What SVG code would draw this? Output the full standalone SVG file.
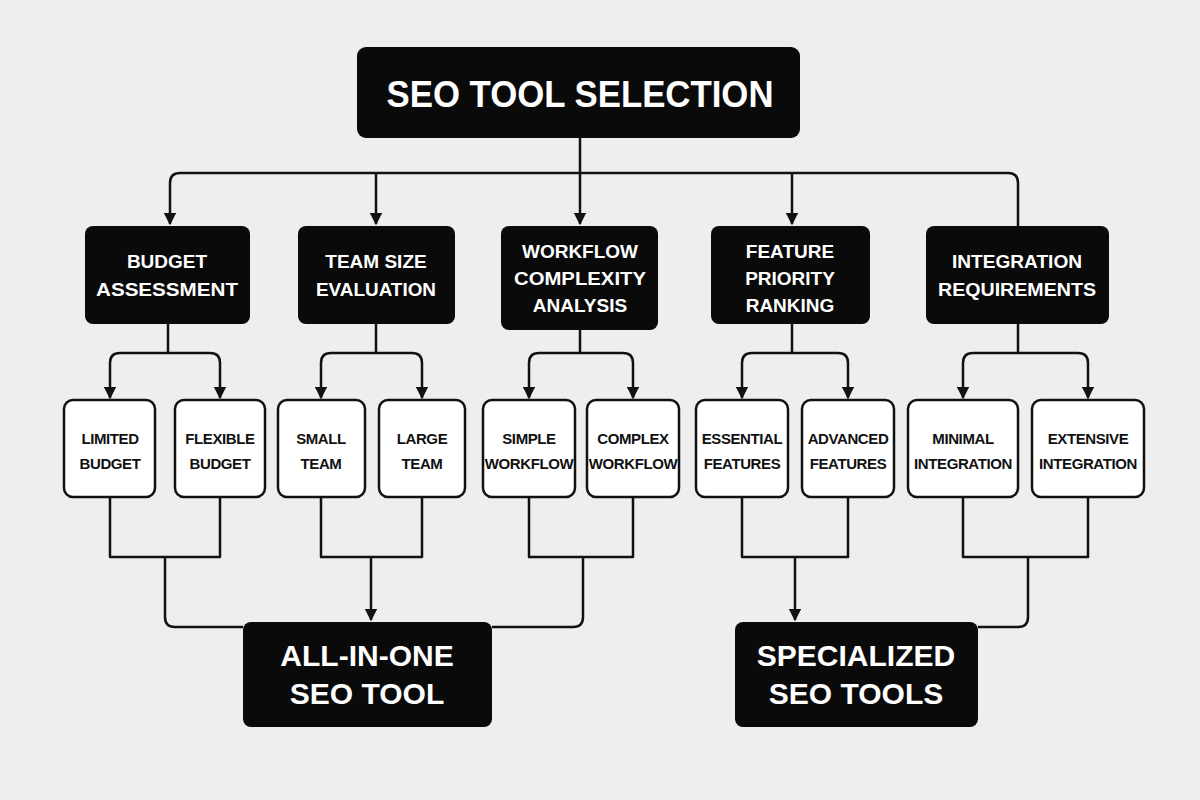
<svg xmlns="http://www.w3.org/2000/svg" width="1200" height="800" viewBox="0 0 1200 800">
<style>
.b{fill:#0a0a0a}
.w{fill:#fff;stroke:#111;stroke-width:2.5}
.t{font-family:"Liberation Sans",Arial,sans-serif;font-weight:bold;text-anchor:middle}
.tw{fill:#fff}
.tb{fill:#111;font-size:15px;letter-spacing:-0.4px}
.c{fill:none;stroke:#111;stroke-width:2.5;stroke-linejoin:round}
</style>
<defs><marker id="a" viewBox="0 0 10 10" refX="9" refY="5" markerWidth="5" markerHeight="5" orient="auto"><path d="M0,0L10,5L0,10z" fill="#111"/></marker></defs>
<rect width="1200" height="800" fill="#efeeef"/>
<g id="connectors" class="c">
<path d="M580,137V173"/>
<path d="M580,173H180Q170,173 170,183V224" marker-end="url(#a)"/>
<path d="M376,173V224" marker-end="url(#a)"/>
<path d="M580,173V224" marker-end="url(#a)"/>
<path d="M792,173V224" marker-end="url(#a)"/>
<path d="M580,173H1008Q1018,173 1018,183V226"/>
<path d="M168,324V353"/><path d="M168,353H120Q110,353 110,363V398" marker-end="url(#a)"/><path d="M168,353H210Q220,353 220,363V398" marker-end="url(#a)"/>
<path d="M376,324V353"/><path d="M376,353H331Q321,353 321,363V398" marker-end="url(#a)"/><path d="M376,353H412Q422,353 422,363V398" marker-end="url(#a)"/>
<path d="M580,330V353"/><path d="M580,353H539Q529,353 529,363V398" marker-end="url(#a)"/><path d="M580,353H623Q633,353 633,363V398" marker-end="url(#a)"/>
<path d="M792,324V353"/><path d="M792,353H752Q742,353 742,363V398" marker-end="url(#a)"/><path d="M792,353H838Q848,353 848,363V398" marker-end="url(#a)"/>
<path d="M1018,324V353"/><path d="M1018,353H973Q963,353 963,363V398" marker-end="url(#a)"/><path d="M1018,353H1078Q1088,353 1088,363V398" marker-end="url(#a)"/>
<path d="M110,497V557H220V497"/><path d="M165,557V617Q165,627 175,627H243"/>
<path d="M321,497V557H422V497"/><path d="M371,557V620" marker-end="url(#a)"/>
<path d="M529,497V557H633V497"/><path d="M583,557V617Q583,627 573,627H492"/>
<path d="M742,497V557H848V497"/><path d="M795,557V620" marker-end="url(#a)"/>
<path d="M963,497V557H1088V497"/><path d="M1028,557V617Q1028,627 1018,627H978"/>
</g>
<g id="root"><rect class="b" x="357" y="47" width="443" height="91" rx="9"/><text class="t tw" x="580" y="107" font-size="36" textLength="387" lengthAdjust="spacingAndGlyphs">SEO TOOL SELECTION</text></g>
<g id="budget"><rect class="b" x="85" y="226" width="165" height="98" rx="8"/><text class="t tw" font-size="19" x="167" y="268">BUDGET</text><text class="t tw" font-size="19" x="167" y="296" textLength="142" lengthAdjust="spacingAndGlyphs">ASSESSMENT</text></g>
<g id="team"><rect class="b" x="298" y="226" width="157" height="98" rx="8"/><text class="t tw" font-size="19" x="376" y="268">TEAM SIZE</text><text class="t tw" font-size="19" x="376" y="296" textLength="120" lengthAdjust="spacingAndGlyphs">EVALUATION</text></g>
<g id="workflow"><rect class="b" x="501" y="226" width="157" height="104" rx="8"/><text class="t tw" font-size="19" x="580" y="258">WORKFLOW</text><text class="t tw" font-size="19" x="580" y="285" textLength="132" lengthAdjust="spacingAndGlyphs">COMPLEXITY</text><text class="t tw" font-size="19" x="580" y="312">ANALYSIS</text></g>
<g id="feature"><rect class="b" x="711" y="226" width="159" height="98" rx="8"/><text class="t tw" font-size="19" x="790" y="258">FEATURE</text><text class="t tw" font-size="19" x="790" y="285">PRIORITY</text><text class="t tw" font-size="19" x="790" y="312">RANKING</text></g>
<g id="integration"><rect class="b" x="926" y="226" width="183" height="98" rx="8"/><text class="t tw" font-size="19" x="1017" y="268" textLength="130" lengthAdjust="spacingAndGlyphs">INTEGRATION</text><text class="t tw" font-size="19" x="1017" y="296" textLength="158" lengthAdjust="spacingAndGlyphs">REQUIREMENTS</text></g>
<g id="limited"><rect class="w" x="64" y="400" width="91" height="97" rx="9"/><text class="t tb" x="110" y="444">LIMITED</text><text class="t tb" x="110" y="469">BUDGET</text></g>
<g id="flexible"><rect class="w" x="175" y="400" width="90" height="97" rx="9"/><text class="t tb" x="220" y="444">FLEXIBLE</text><text class="t tb" x="220" y="469">BUDGET</text></g>
<g id="small"><rect class="w" x="278" y="400" width="87" height="97" rx="9"/><text class="t tb" x="321" y="444">SMALL</text><text class="t tb" x="321" y="469">TEAM</text></g>
<g id="large"><rect class="w" x="379" y="400" width="86" height="97" rx="9"/><text class="t tb" x="422" y="444">LARGE</text><text class="t tb" x="422" y="469">TEAM</text></g>
<g id="simple"><rect class="w" x="483" y="400" width="92" height="97" rx="9"/><text class="t tb" x="529" y="444">SIMPLE</text><text class="t tb" x="529" y="469">WORKFLOW</text></g>
<g id="complex"><rect class="w" x="587" y="400" width="92" height="97" rx="9"/><text class="t tb" x="633" y="444">COMPLEX</text><text class="t tb" x="633" y="469">WORKFLOW</text></g>
<g id="essential"><rect class="w" x="696" y="400" width="92" height="97" rx="9"/><text class="t tb" x="742" y="444">ESSENTIAL</text><text class="t tb" x="742" y="469">FEATURES</text></g>
<g id="advanced"><rect class="w" x="802" y="400" width="92" height="97" rx="9"/><text class="t tb" x="848" y="444">ADVANCED</text><text class="t tb" x="848" y="469">FEATURES</text></g>
<g id="minimal"><rect class="w" x="908" y="400" width="110" height="97" rx="9"/><text class="t tb" x="963" y="444">MINIMAL</text><text class="t tb" x="963" y="469">INTEGRATION</text></g>
<g id="extensive"><rect class="w" x="1032" y="400" width="112" height="97" rx="9"/><text class="t tb" x="1088" y="444">EXTENSIVE</text><text class="t tb" x="1088" y="469">INTEGRATION</text></g>
<g id="allinone"><rect class="b" x="243" y="622" width="249" height="105" rx="8"/><text class="t tw" font-size="30" x="367" y="666">ALL-IN-ONE</text><text class="t tw" font-size="30" x="367" y="704">SEO TOOL</text></g>
<g id="specialized"><rect class="b" x="735" y="622" width="243" height="105" rx="8"/><text class="t tw" font-size="30" x="856" y="666">SPECIALIZED</text><text class="t tw" font-size="30" x="856" y="704">SEO TOOLS</text></g>
</svg>
